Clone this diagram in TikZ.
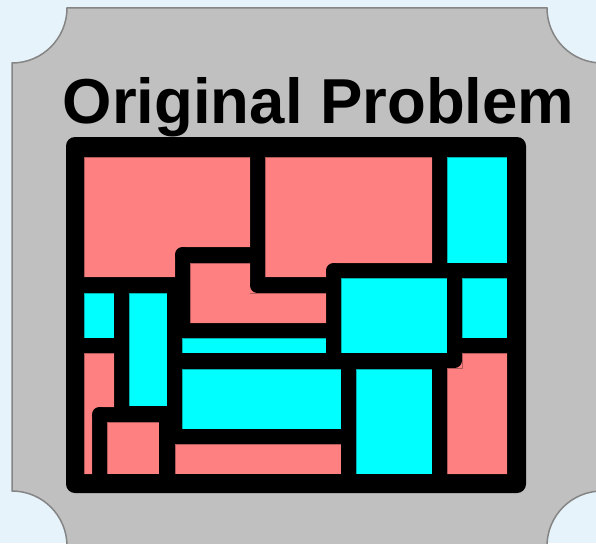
\documentclass[tikz,border=0pt]{standalone}
\usepackage{fontspec}
\setmainfont{Liberation Sans}
\definecolor{bgblue}{HTML}{E6F3FA}
\definecolor{panel}{HTML}{C0C0C0}
\definecolor{panelline}{HTML}{858585}
\definecolor{pred}{HTML}{FF8080}
\definecolor{pcyan}{HTML}{00FFFF}
\tikzset{
  redpiece/.style={fill=pred, draw=black, draw opacity=0.3, line width=0.8},
  cyanpiece/.style={fill=pcyan, draw=black, draw opacity=0.3, line width=0.8},
  title/.style={font=\bfseries\fontsize{63.5}{70}\selectfont, inner sep=0pt, anchor=base}
}
\begin{document}
\begin{tikzpicture}[x=1pt,y=-1pt]
\useasboundingbox (0,0) rectangle (596,543);
\fill[bgblue] (0,0) rectangle (596,543);
% panel with concave corners
\filldraw[fill=panel, draw=panelline, line width=1.5]
  (67,8) -- (547,8) arc[start angle=180, end angle=90, radius=55]
  -- (602,491) arc[start angle=270, end angle=180, radius=55]
  -- (67,546) arc[start angle=0, end angle=-90, radius=55]
  -- (12,63) arc[start angle=90, end angle=0, radius=55] -- cycle;
% title
\node[title] (t) at (318.5,123) {Original Problem};
% black frame
\fill[black, rounded corners=9] (66,137) rectangle (526,493);
% pieces
\path[redpiece] (84,157) -- (250,157) -- (250,247) -- (175,247) -- (175,277) -- (84,277) -- cycle;
\path[redpiece] (265,157) -- (432,157) -- (432,263) -- (326,263) -- (326,277) -- (265,277) -- cycle;
\path[cyanpiece] (447,157) rectangle (507,263);
\path[redpiece] (190,263) -- (250,263) -- (250,293) -- (326,293) -- (326,323) -- (190,323) -- cycle;
\path[cyanpiece] (84,293) rectangle (114,338);
\path[cyanpiece] (129,293) rectangle (167,406);
\path[cyanpiece] (341,278) rectangle (447,353);
\path[cyanpiece] (462,278) rectangle (507,338);
\path[cyanpiece] (182,338) rectangle (326,353);
\path[redpiece] (84,353) -- (114,353) -- (114,407) -- (92,407) -- (92,474) -- (84,474) -- cycle;
\path[cyanpiece] (182,369) rectangle (341,429);
\path[redpiece] (107,422) rectangle (159,474);
\path[redpiece] (175,444) rectangle (341,474);
\path[cyanpiece] (356,369) rectangle (432,474);
\path[redpiece] (462,353) -- (507,353) -- (507,474) -- (447,474) -- (447,368) -- (462,368) -- cycle;
% rounded black corners at reflex corners
\fill[pred] (175,247) rectangle (182.5,254.5);
\fill[black] (182.5,254.5) circle[radius=7.5];
\fill[pred] (326,263) rectangle (333.5,270.5);
\fill[black] (333.5,270.5) circle[radius=7.5];
\fill[pred] (250,285.5) rectangle (257.5,293);
\fill[black] (257.5,285.5) circle[radius=7.5];
\fill[pred] (92,407) rectangle (99.5,414.5);
\fill[black] (99.5,414.5) circle[radius=7.5];
\fill[pred] (454.5,360.5) rectangle (462,368);
\fill[black] (454.5,360.5) circle[radius=7.5];
\end{tikzpicture}
\end{document}
